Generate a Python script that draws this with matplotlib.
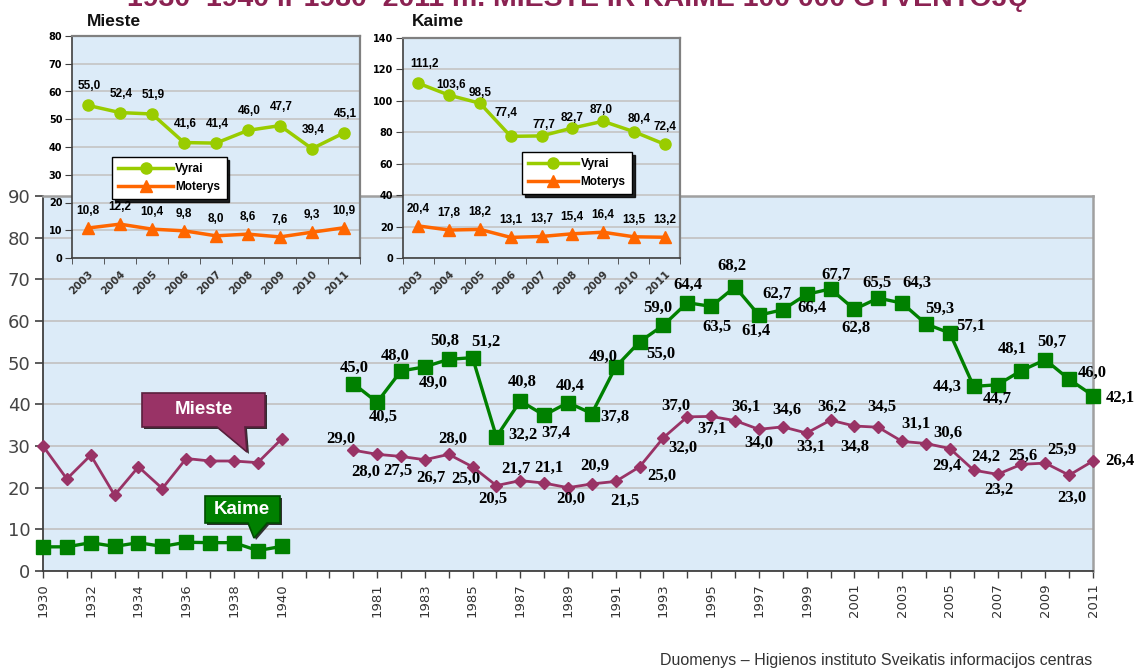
import matplotlib
matplotlib.use("Agg")
import matplotlib.pyplot as plt
from matplotlib.patches import Polygon
import numpy as np

# ---------------- data ----------------
pre_years = [1930, 1931, 1932, 1933, 1934, 1935, 1936, 1937, 1938, 1939, 1940]
post_years = [1980, 1981, 1982, 1983, 1984, 1985, 1986, 1987, 1988, 1989, 1990,
              1991, 1992, 1993, 1994, 1995, 1996, 1997, 1998, 1999, 2000, 2001,
              2002, 2003, 2004, 2005, 2006, 2007, 2008, 2009, 2010, 2011]

mieste_pre = [30.0, 22.1, 27.8, 18.2, 25.0, 19.8, 27.0, 26.4, 26.4, 26.0, 31.7]
kaime_pre = [5.8, 5.8, 6.8, 5.9, 6.8, 5.9, 6.9, 6.8, 6.8, 4.9, 5.9]

mieste_post = [29.0, 28.0, 27.5, 26.7, 28.0, 25.0, 20.5, 21.7, 21.1, 20.0, 20.9,
               21.5, 25.0, 32.0, 37.0, 37.1, 36.1, 34.0, 34.6, 33.1, 36.2, 34.8,
               34.5, 31.1, 30.6, 29.4, 24.2, 23.2, 25.6, 25.9, 23.0, 26.4]
kaime_post = [45.0, 40.5, 48.0, 49.0, 50.8, 51.2, 32.2, 40.8, 37.4, 40.4, 37.8,
              49.0, 55.0, 59.0, 64.4, 63.5, 68.2, 61.4, 62.7, 66.4, 67.7, 62.8,
              65.5, 64.3, 59.3, 57.1, 44.3, 44.7, 48.1, 50.7, 46.0, 42.1]

inset_years = ["2003", "2004", "2005", "2006", "2007", "2008", "2009", "2010", "2011"]
mieste_vyrai = [55.0, 52.4, 51.9, 41.6, 41.4, 46.0, 47.7, 39.4, 45.1]
mieste_moterys = [10.8, 12.2, 10.4, 9.8, 8.0, 8.6, 7.6, 9.3, 10.9]
kaime_vyrai = [111.2, 103.6, 98.5, 77.4, 77.7, 82.7, 87.0, 80.4, 72.4]
kaime_moterys = [20.4, 17.8, 18.2, 13.1, 13.7, 15.4, 16.4, 13.5, 13.2]

# label offsets (pixels) - styling only
kaime_off = [(1, 16), (6, -15), (-6, 15), (8, -16), (-4, 18), (13, 16), (27, 2),
             (2, 19), (12, -18), (2, 17), (23, -3), (-12, 10), (21, -12), (-6, 17),
             (1, 18), (6, -20), (-3, 21), (-3, -16), (-6, 16), (5, -14), (5, 14),
             (2, -19), (-1, 15), (15, 20), (14, 15), (21, 7), (-26, 0), (0, -14),
             (-9, 22), (7, 18), (23, 6), (27, -2)]
mieste_off = [(-12, 11), (-11, -18), (-3, -14), (6, -18), (4, 15), (-7, -12),
              (-4, -13), (-4, 12), (5, 15), (3, -11), (3, 18), (9, -19), (22, -9),
              (19, -10), (-11, 11), (1, -12), (11, 14), (0, -14), (4, 17), (4, -14),
              (1, 13), (0, -21), (4, 20), (14, 18), (22, 11), (-3, -17), (12, 13),
              (1, -16), (1, 8), (17, 13), (3, -23), (27, 0)]
kv_off = [(6, 19), (2, 10), (0, 10), (-5, 23), (2, 11), (0, 10), (-2, 11), (5, 13), (0, 17)]

W, H = 1140, 669
BG = "#dcebf8"
PURPLE = "#993366"
GREEN = "#008000"
LIME = "#99cc00"
ORANGE = "#ff6600"

def fmt(v):
    return f"{v:.1f}".replace(".", ",")

fig = plt.figure(figsize=(W / 100, H / 100), dpi=100)
fig.patch.set_facecolor("white")

# ---------------- main axes ----------------
ax = fig.add_axes([43 / W, 1 - 571 / H, 1050 / W, 375 / H])
ax.set_facecolor(BG)
categories = [str(y) for y in pre_years] + ["", ""] + [str(y) for y in post_years]
pos = np.arange(len(categories))
pre_x = pos[:len(pre_years)]
post_x = pos[len(pre_years) + 2:]

ax.set_xlim(0, len(categories) - 1)
ax.set_ylim(0, 90)
ax.set_yticks(np.arange(0, 91, 10))
ax.set_xticks(pos)
ax.set_xticklabels([c if i % 2 == 0 else "" for i, c in enumerate(categories)],
                   rotation=90, fontsize=9.5, color="#333333")
ax.tick_params(axis="y", labelsize=13, labelcolor="#444444", length=6,
               color="#404040", width=1.2, pad=3)
ax.tick_params(axis="x", length=5, color="#404040", width=1.0, pad=4)
ax.yaxis.grid(True, color="#c4c4c4", lw=1.3)
ax.set_axisbelow(True)
for s in ["left", "bottom"]:
    ax.spines[s].set_color("#404040")
    ax.spines[s].set_linewidth(1.3)
for s in ["top", "right"]:
    ax.spines[s].set_color("#a0a0a0")
    ax.spines[s].set_linewidth(1.8)

ax.plot(pre_x, mieste_pre, color=PURPLE, lw=2.0, marker="D", ms=6, zorder=3, clip_on=False)
ax.plot(post_x, mieste_post, color=PURPLE, lw=2.0, marker="D", ms=6, zorder=3, clip_on=False)
ax.plot(pre_x, kaime_pre, color=GREEN, lw=2.4, marker="s", ms=10, zorder=4, clip_on=False)
ax.plot(post_x, kaime_post, color=GREEN, lw=2.4, marker="s", ms=10, zorder=4, clip_on=False)

lbl_kw = dict(textcoords="offset pixels", ha="center", va="center",
              fontsize=12, fontweight="bold", family="Liberation Serif",
              color="black", zorder=6, annotation_clip=False)
for x, v, o in zip(post_x, kaime_post, kaime_off):
    ax.annotate(fmt(v), (x, v), xytext=o, **lbl_kw)
for x, v, o in zip(post_x, mieste_post, mieste_off):
    ax.annotate(fmt(v), (x, v), xytext=o, **lbl_kw)

# callouts (axes-fraction coordinates derived from pixel layout)
def fr(px, py):
    return ((px - 43) / 1050, (571 - py) / 375)

def callout(pts, face, edge, text, tpos):
    sh = Polygon([fr(px + 2, py + 2) for px, py in pts], closed=True,
                 transform=ax.transAxes, facecolor="#303030", edgecolor="none", zorder=6)
    ax.add_patch(sh)
    p = Polygon([fr(px, py) for px, py in pts], closed=True, transform=ax.transAxes,
                facecolor=face, edgecolor=edge, lw=1.2, zorder=7)
    ax.add_patch(p)
    tx, ty = fr(*tpos)
    ax.text(tx, ty, text, transform=ax.transAxes, ha="center", va="center",
            color="white", fontsize=13.5, fontweight="bold", family="Liberation Sans",
            zorder=8)

callout([(142, 393), (265, 393), (265, 427), (245, 427), (247, 452), (217, 427), (142, 427)],
        PURPLE, "#5a1f3d", "Mieste", (204, 410))
callout([(205, 496), (280, 496), (280, 523), (267, 523), (254, 538), (248, 523), (205, 523)],
        GREEN, "#004d00", "Kaime", (242, 509))

# ---------------- insets ----------------
def inset(rect, vyrai, moterys, ymax, ystep, title, title_x, leg_anchor, v_off, hl):
    a = fig.add_axes(rect)
    a.set_facecolor(BG)
    n = len(inset_years)
    a.set_xlim(-0.5, n - 0.5)
    a.set_ylim(0, ymax)
    a.set_yticks(np.arange(0, ymax + 1, ystep))
    a.set_xticks(np.arange(n))
    a.set_xticklabels(inset_years, rotation=45, ha="right", rotation_mode="anchor",
                      fontsize=7.5, fontweight="bold", color="#333333")
    a.set_xticks(np.arange(n + 1) - 0.5, minor=True)
    a.tick_params(axis="x", which="major", length=0, pad=8)
    a.tick_params(axis="x", which="minor", length=4, color="#404040")
    a.tick_params(axis="y", length=5, color="#404040", labelsize=7, pad=2)
    for lab in a.get_yticklabels():
        lab.set_fontweight("bold")
    a.yaxis.grid(True, color="#c4c4c4", lw=1.2)
    a.set_axisbelow(True)
    for s in ["left", "bottom"]:
        a.spines[s].set_color("#404040")
        a.spines[s].set_linewidth(1.2)
    for s in ["top", "right"]:
        a.spines[s].set_color("#808080")
        a.spines[s].set_linewidth(1.6)
    x = np.arange(n)
    l1, = a.plot(x, vyrai, color=LIME, lw=2.5, marker="o", ms=8, label="Vyrai", zorder=3)
    l2, = a.plot(x, moterys, color=ORANGE, lw=2.5, marker="^", ms=8, label="Moterys", zorder=3)
    for xi, v, o in zip(x, vyrai, v_off):
        a.annotate(fmt(v), (xi, v), xytext=o, textcoords="offset pixels", ha="center",
                   va="center", fontsize=8.5, fontweight="bold", color="black",
                   family="Liberation Sans", zorder=5)
    for xi, v in zip(x, moterys):
        a.annotate(fmt(v), (xi, v), xytext=(0, 17), textcoords="offset pixels", ha="center",
                   va="center", fontsize=8.5, fontweight="bold", color="black",
                   family="Liberation Sans", zorder=5)
    leg = a.legend(handles=[l1, l2], loc="upper left", bbox_to_anchor=leg_anchor,
                   bbox_transform=fig.transFigure, frameon=True, fancybox=False,
                   shadow={"color": "black", "alpha": 0.85},
                   prop={"size": 8.5, "weight": "bold", "family": "Liberation Sans"},
                   handlelength=hl, handletextpad=0.2, borderpad=0.55,
                   labelspacing=0.45, borderaxespad=0)
    leg.get_frame().set_edgecolor("black")
    leg.get_frame().set_linewidth(1.0)
    fig.text(title_x, 1 - 21 / H, title, ha="left", va="center", fontsize=12.5,
             fontweight="bold", family="Liberation Sans", color="#111111")
    return a

inset([72 / W, 1 - 258 / H, 288 / W, 222 / H], mieste_vyrai, mieste_moterys, 80, 10,
      "Mieste", 87 / W, (112 / W, 1 - 157 / H), [(1, 19)] * 9, 4.6)
inset([403 / W, 1 - 258 / H, 277 / W, 220 / H], kaime_vyrai, kaime_moterys, 140, 20,
      "Kaime", 412 / W, (522 / W, 1 - 152 / H), kv_off, 4.2)

# clipped headline at the very top (only its lower edge shows, as in the source)
fig.text(578 / W, 1 - 6 / H, "1930–1940 ir 1980–2011 m. MIESTE IR KAIME 100 000 GYVENTOJŲ",
         ha="center", va="baseline", fontsize=20.5, fontweight="bold",
         family="Liberation Sans", color="#8b2252")

fig.text(1092 / W, 1 - 661 / H,
         "Duomenys – Higienos instituto Sveikatis informacijos centras",
         ha="right", va="center", fontsize=11.5, color="#333333", family="Liberation Sans")

fig.savefig("out.png", dpi=100, facecolor="white")
